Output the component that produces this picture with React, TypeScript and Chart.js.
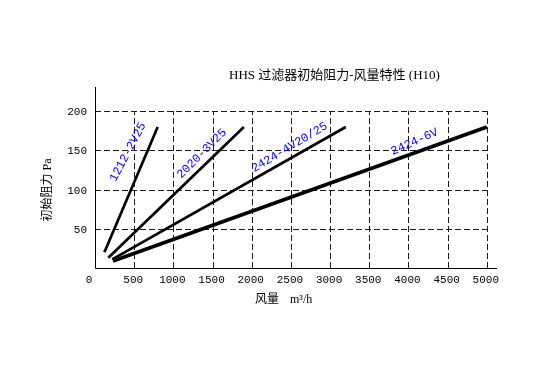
import React, { useEffect, useRef } from "react";
import { Chart, registerables } from "chart.js";

Chart.register(...registerables);

const seriesNames = ["1212-2V25", "2020-3V25", "2424-4V20/25", "2424-6V"];
const flowStart = [120, 170, 220, 230];
const flowEnd = [800, 1900, 3200, 5000];
const resistStart = [20, 13, 11, 9];
const resistEnd = [180, 180, 180, 180];
const lineWidths = [2.7, 2.7, 2.7, 3.6];

const labelFlow = [420, 1364, 2483, 4078];
const labelResist = [148, 146, 154, 161];
const labelAngle = [-62, -45, -31, -24];

const xTicks = [0, 500, 1000, 1500, 2000, 2500, 3000, 3500, 4000, 4500, 5000];
const yTicks = [50, 100, 150, 200];

const titleText = "HHS 过滤器初始阻力-风量特性 (H10)";
const yTitle = "初始阻力 Pa";
const xTitleMain = "风量";
const xTitleUnit = "m³/h";

const TICK_FONT = '11px "Liberation Mono", monospace';
const TITLE_FONT = '13px "Liberation Serif", "Noto Sans CJK SC", serif';
const AXIS_TITLE_FONT = '12px "Liberation Serif", "Noto Sans CJK SC", serif';

const decorPlugin = {
  id: "decor",
  beforeDatasetsDraw(chart: any) {
    const ctx = chart.ctx;
    const xs = chart.scales.x;
    const ys = chart.scales.y;
    const area = chart.chartArea;
    const x0 = xs.getPixelForValue(0);
    const y0 = ys.getPixelForValue(0);
    const xMaxGrid = xs.getPixelForValue(xTicks[xTicks.length - 1]);
    const yMaxGrid = ys.getPixelForValue(yTicks[yTicks.length - 1]);
    ctx.save();
    ctx.strokeStyle = "#1a1a1a";
    ctx.lineWidth = 1;
    ctx.setLineDash([6, 3]);
    for (const v of xTicks) {
      if (v === 0) continue;
      const px = Math.round(xs.getPixelForValue(v)) + 0.5;
      ctx.beginPath();
      ctx.moveTo(px, Math.round(y0));
      ctx.lineTo(px, Math.round(yMaxGrid));
      ctx.stroke();
    }
    for (const v of yTicks) {
      const py = Math.round(ys.getPixelForValue(v)) + 0.5;
      ctx.beginPath();
      ctx.moveTo(Math.round(x0), py);
      ctx.lineTo(Math.round(xMaxGrid) + 1, py);
      ctx.stroke();
    }
    ctx.setLineDash([]);
    ctx.strokeStyle = "#000";
    ctx.beginPath();
    const ax = Math.round(x0) + 0.5;
    const ay = Math.round(y0) + 0.5;
    ctx.moveTo(ax, Math.round(area.top));
    ctx.lineTo(ax, ay);
    ctx.lineTo(Math.round(area.right), ay);
    ctx.stroke();

    // tick labels
    ctx.fillStyle = "#000";
    ctx.font = TICK_FONT;
    ctx.textBaseline = "middle";
    ctx.textAlign = "right";
    for (const v of yTicks) {
      ctx.fillText(String(v), x0 - 8, ys.getPixelForValue(v) + 1);
    }
    ctx.textAlign = "center";
    for (const v of xTicks) {
      const px = xs.getPixelForValue(v) + (v === 0 ? -6 : -1);
      ctx.fillText(String(v), px, y0 + 12);
    }

    // titles
    ctx.font = TITLE_FONT;
    ctx.textAlign = "left";
    ctx.fillText(titleText, 229, 76);
    ctx.font = AXIS_TITLE_FONT;
    ctx.fillText(xTitleMain, 255, 300);
    ctx.fillText(xTitleUnit, 290, 300);
    ctx.save();
    ctx.translate(48, 190);
    ctx.rotate(-Math.PI / 2);
    ctx.textAlign = "center";
    ctx.fillText(yTitle, 0, 0);
    ctx.restore();
    ctx.restore();
  },
  afterDatasetsDraw(chart: any) {
    const ctx = chart.ctx;
    const xs = chart.scales.x;
    const ys = chart.scales.y;
    ctx.save();
    ctx.fillStyle = "#0000ff";
    ctx.font = '12px "Liberation Mono", monospace';
    ctx.textAlign = "center";
    ctx.textBaseline = "middle";
    for (let i = 0; i < seriesNames.length; i++) {
      ctx.save();
      ctx.translate(xs.getPixelForValue(labelFlow[i]), ys.getPixelForValue(labelResist[i]));
      ctx.rotate((labelAngle[i] * Math.PI) / 180);
      ctx.fillText(seriesNames[i], 0, 0);
      ctx.restore();
    }
    ctx.restore();
  },
};

export default function App() {
  const ref = useRef<HTMLCanvasElement | null>(null);
  useEffect(() => {
    document.body.style.margin = "0";
    const canvas = ref.current!;
    const chart = new Chart(canvas, {
      type: "scatter",
      data: {
        datasets: seriesNames.map((name, i) => ({
          label: name,
          data: [
            { x: flowStart[i], y: resistStart[i] },
            { x: flowEnd[i], y: resistEnd[i] },
          ],
          showLine: true,
          borderColor: "#000",
          backgroundColor: "#000",
          borderWidth: lineWidths[i],
          pointRadius: 0,
          borderCapStyle: "butt",
        })),
      },
      options: {
        responsive: false,
        animation: false,
        devicePixelRatio: 1,
        layout: { padding: { left: 95, right: 57, top: 87, bottom: 105 } },
        plugins: { legend: { display: false }, tooltip: { enabled: false } },
        scales: {
          x: { type: "linear", min: 0, max: 5130, display: false },
          y: { type: "linear", min: 0, max: 231, display: false },
        },
      },
      plugins: [decorPlugin],
    } as any);
    return () => chart.destroy();
  }, []);
  return (
    <div style={{ position: "absolute", left: 0, top: 0, width: 554, height: 373, background: "#fff" }}>
      <canvas ref={ref} width={554} height={373} style={{ width: 554, height: 373, display: "block" }} />
    </div>
  );
}
